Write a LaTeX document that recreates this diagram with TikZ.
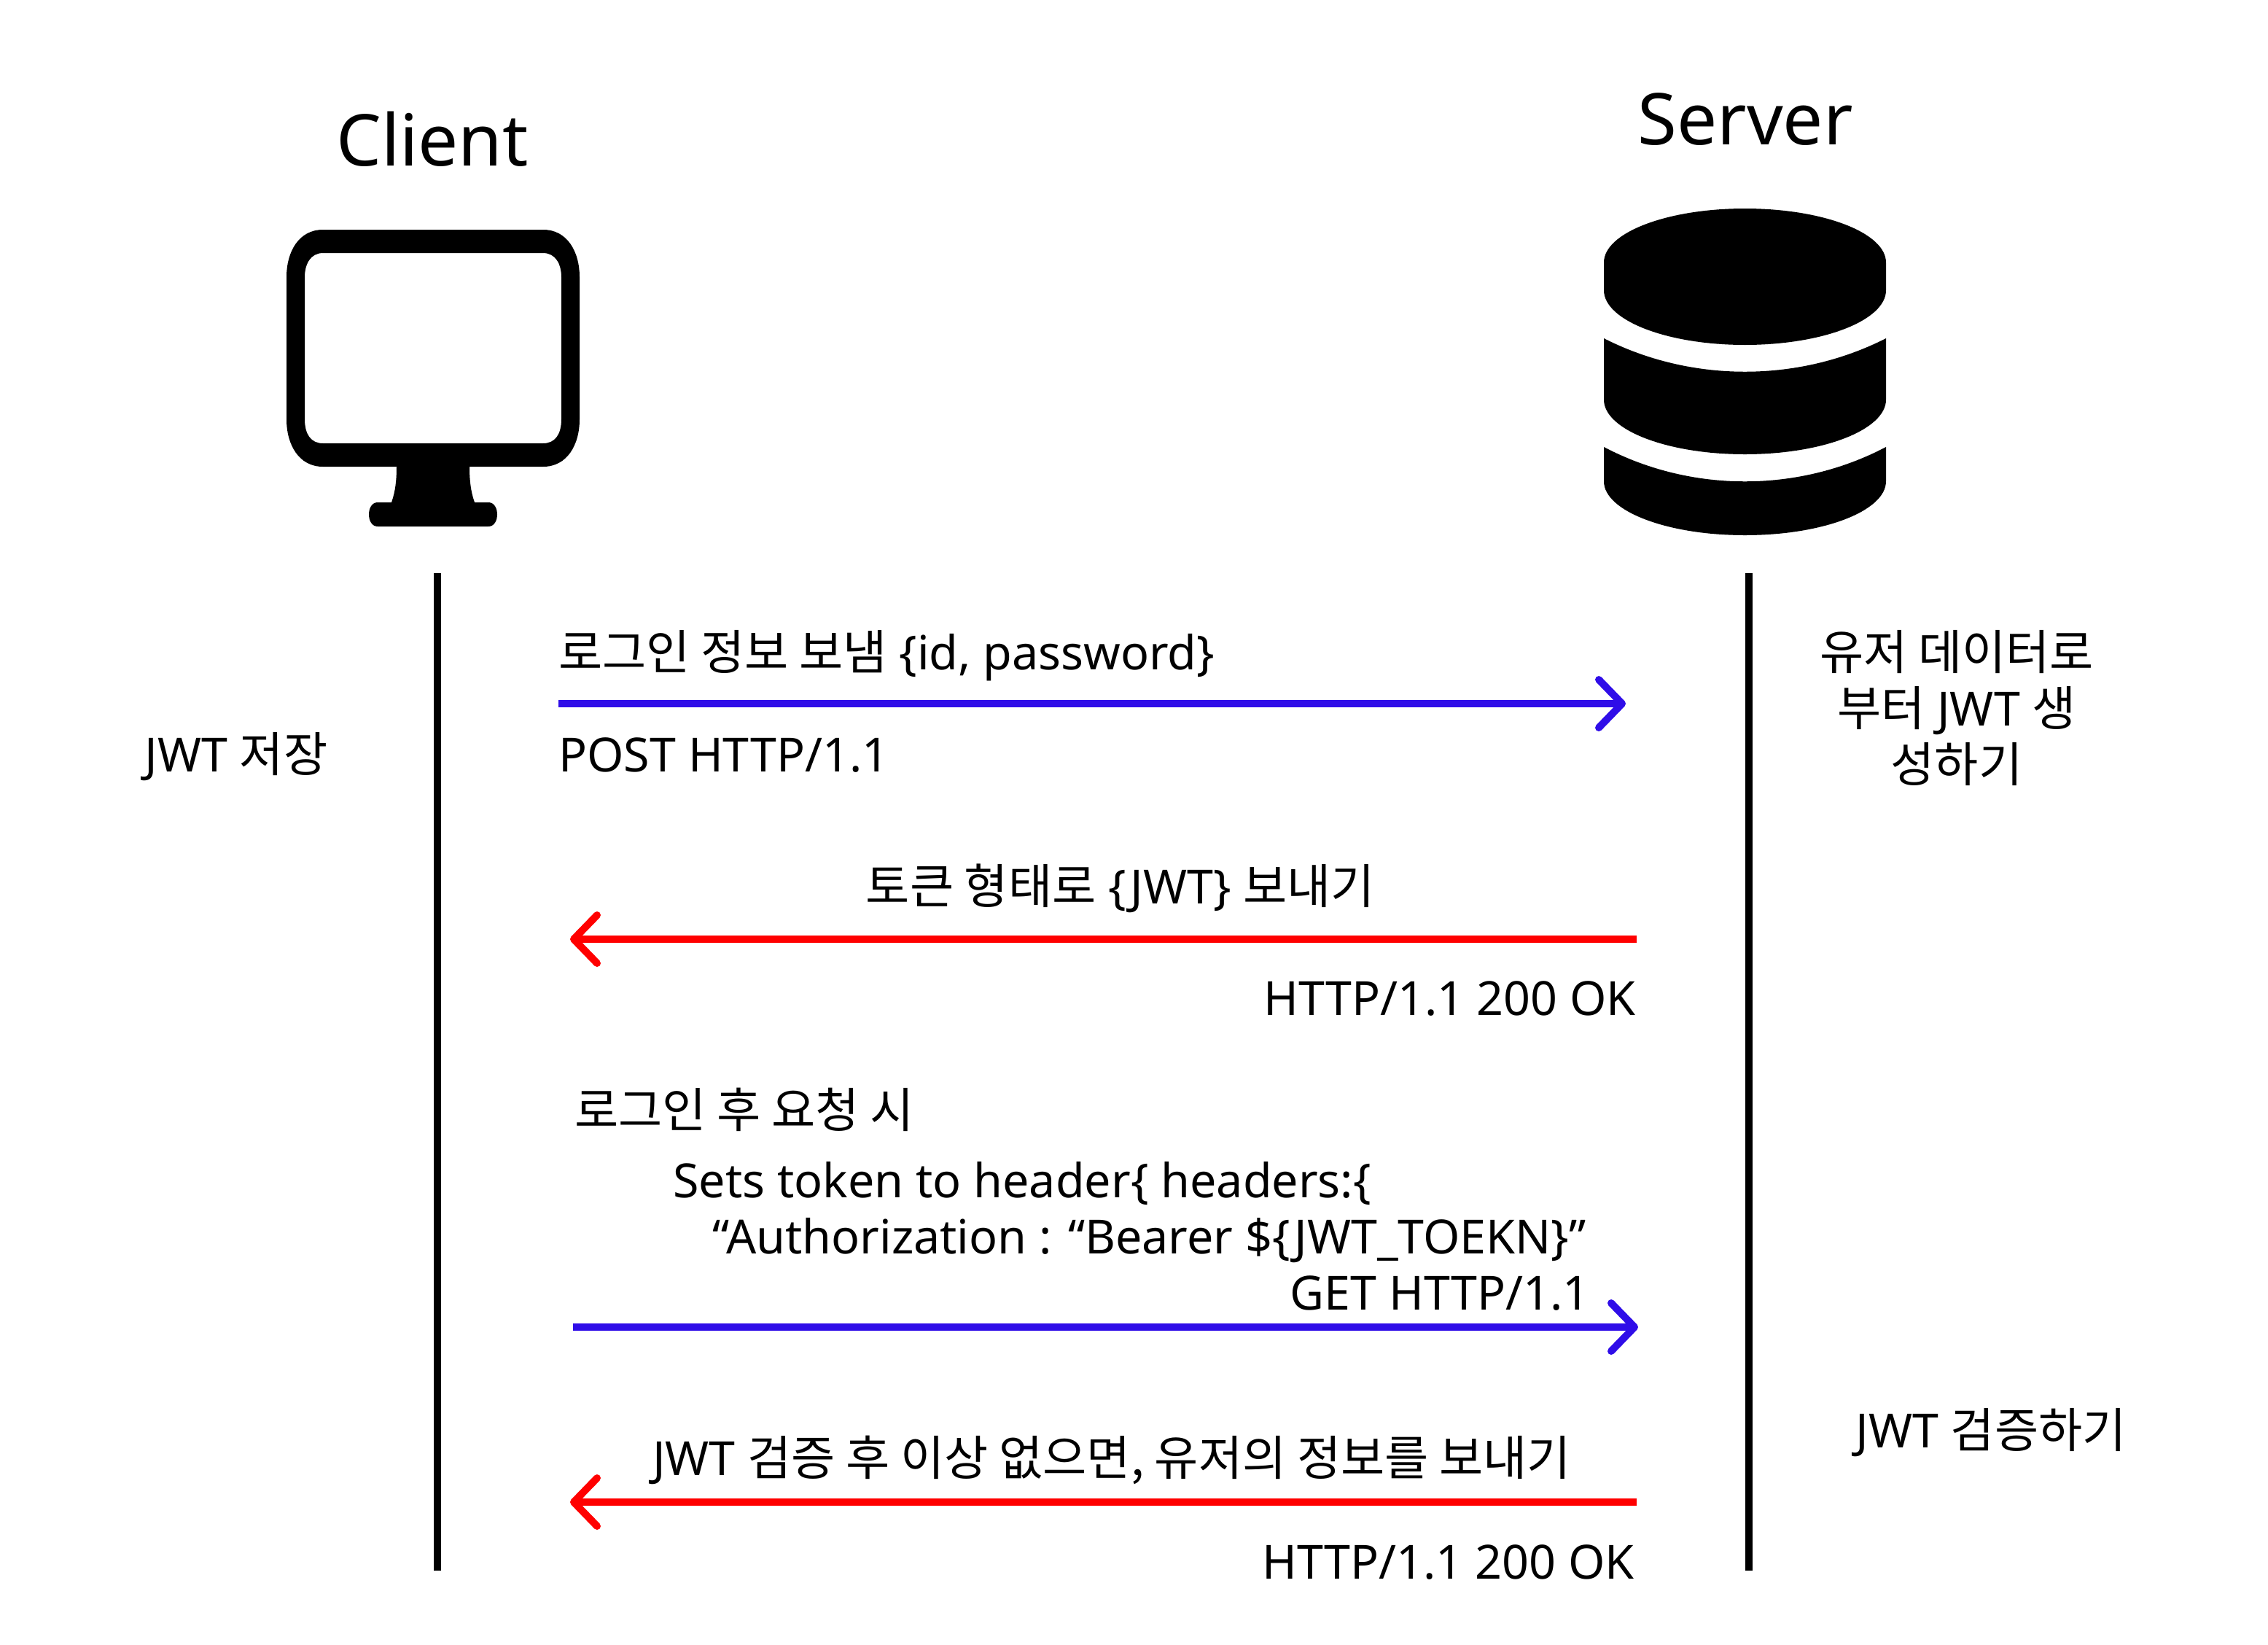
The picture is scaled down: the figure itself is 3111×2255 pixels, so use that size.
\documentclass[tikz,border=0pt]{standalone}
\usepackage{fontspec}
\setmainfont{Noto Sans}
\newfontfamily\kofont[Scale=1.0125]{Noto Sans CJK KR}
\newcommand{\ko}[1]{{\kofont #1}}
\definecolor{reqblue}{HTML}{2F0DE8}
\definecolor{resred}{HTML}{FF0000}
\usetikzlibrary{arrows.meta}
\tikzset{
	lifeline/.style={line width=5pt},
	msg/.style={line width=5pt, -{Straight Barb[length=16pt,width=33pt,round]}},
	label/.style={inner sep=0pt, font=\fontsize{32.3}{38.5}\selectfont},
	title/.style={inner sep=0pt, anchor=base, font=\fontsize{49}{60}\selectfont}
}

\begin{document}
\begin{tikzpicture}[x=0.5pt,y=-0.5pt]
	\useasboundingbox (0,0) rectangle (3111,2255);


	\node[title] (clientTitle) at (593,227) {Client};
	\node[title] (serverTitle) at (2394,198) {Server};


	\fill[even odd rule] (443,315) -- (745,315) .. controls (778,315) and (795,345) .. (795,380) -- (795,575) .. controls (795,610) and (778,640) .. (745,640) -- (644,640) .. controls (644,660) and (646,675) .. (651,689) -- (670,689) .. controls (686,689) and (686,722) .. (670,722) -- (518,722) .. controls (502,722) and (502,689) .. (518,689) -- (537,689) .. controls (542,675) and (544,660) .. (544,640) -- (443,640) .. controls (410,640) and (393,610) .. (393,575) -- (393,380) .. controls (393,345) and (410,315) .. (443,315) -- cycle
		(443,347) -- (745,347) .. controls (762,347) and (770,362) .. (770,380) -- (770,575) .. controls (770,595) and (762,608) .. (745,608) -- (443,608) .. controls (426,608) and (418,595) .. (418,575) -- (418,380) .. controls (418,362) and (426,347) .. (443,347) -- cycle;


	\fill (2200,360) arc[start angle=180,end angle=360,x radius=193.5,y radius=74] -- (2587,398) arc[start angle=0,end angle=180,x radius=193.5,y radius=75] -- cycle;
	\fill (2200,464) .. controls (2320,525) and (2467,525) .. (2587,464) -- (2587,548) arc[start angle=0,end angle=180,x radius=193.5,y radius=75] -- cycle;
	\fill (2200,613) .. controls (2320,676) and (2467,676) .. (2587,613) -- (2587,660) arc[start angle=0,end angle=180,x radius=193.5,y radius=74] -- cycle;


	\coordinate (clientTop) at (599.5,786);
	\coordinate (clientEnd) at (599.5,2154);
	\coordinate (serverTop) at (2399,786);
	\coordinate (serverEnd) at (2399,2154);
	\draw[lifeline] (clientTop) -- (clientEnd);
	\draw[lifeline] (serverTop) -- (serverEnd);


	\coordinate (loginFrom) at (766,965);
	\coordinate (loginTo) at (2230,965);
	\coordinate (tokenFrom) at (2245,1288);
	\coordinate (tokenTo) at (782,1288);
	\coordinate (getFrom) at (786,1820);
	\coordinate (getTo) at (2247,1820);
	\coordinate (infoFrom) at (2245,2060);
	\coordinate (infoTo) at (782,2060);
	\draw[msg,reqblue] (loginFrom) -- (loginTo);
	\draw[msg,resred] (tokenFrom) -- (tokenTo);
	\draw[msg,reqblue] (getFrom) -- (getTo);
	\draw[msg,resred] (infoFrom) -- (infoTo);


	\node[label,anchor=base west] (loginMsg) at (766,918) {\ko{로그인 정보 보냄} \{id, password\}};
	\node[label,anchor=base west] (postMsg) at (766,1058) {POST HTTP/1.1};
	\node[label,anchor=base west] (saveNote) at (198,1058) {JWT \ko{저장}};
	\node[label,anchor=base,align=center] (makeNote) at (2684,1072) {\ko{유저 데이터로}\\\ko{부터} JWT \ko{생}\\\ko{성하기}};
	\node[label,anchor=base] (tokenMsg) at (1537,1239) {\ko{토큰 형태로} \{JWT\} \ko{보내기}};
	\node[label,anchor=base east] (okFirst) at (2244,1392) {HTTP/1.1 200 OK};
	\node[label,anchor=base west] (afterMsg) at (788,1546) {\ko{로그인 후 요청 시}};
	\node[label,anchor=base west] (setsMsg) at (923,1642) {Sets token to header\{ headers:\{};
	\node[label,anchor=base west] (authMsg) at (977,1719) {“Authorization : “Bearer \$\{JWT\_TOEKN\}”};
	\node[label,anchor=base east] (getMsg) at (2181,1796) {GET HTTP/1.1};
	\node[label,anchor=base] (infoMsg) at (1525,2023) {JWT \ko{검증 후 이상 없으면, 유저의 정보를 보내기}};
	\node[label,anchor=base east] (okSecond) at (2242,2165) {HTTP/1.1 200 OK};
	\node[label,anchor=base west] (checkNote) at (2545,1985) {JWT \ko{검증하기}};


\end{tikzpicture}
\end{document}
